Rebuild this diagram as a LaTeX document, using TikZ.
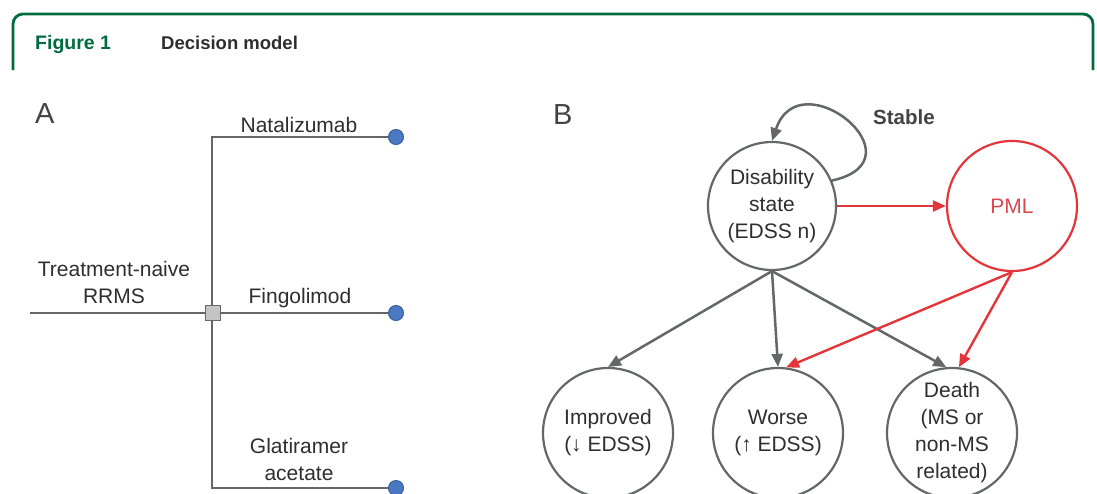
\documentclass[tikz,border=0pt]{standalone}
\usepackage{fontspec}
\setmainfont{Liberation Sans}
\usetikzlibrary{arrows.meta}
\definecolor{frameg}{HTML}{006B3F}
\definecolor{lgray}{HTML}{646668}
\definecolor{tgray}{HTML}{2E2E2E}
\definecolor{mred}{HTML}{E2363B}
\definecolor{pmltext}{HTML}{D9484C}
\definecolor{dotblue}{HTML}{4A79C4}
\definecolor{dotedge}{HTML}{3B5E9C}
\definecolor{sqfill}{HTML}{C4C4C4}
\begin{document}
\begin{tikzpicture}[x=1pt,y=-1pt,
  lbl/.style={anchor=base, text=tgray, font=\fontsize{21}{27}\selectfont, inner sep=0},
  panel/.style={anchor=base west, text=tgray!90, font=\fontsize{29}{32}\selectfont, inner sep=0},
  tline/.style={draw=lgray, line width=2.5pt},
  leaf/.style={circle, fill=dotblue, draw=dotedge, line width=1pt, minimum size=15pt, inner sep=0},
  choice/.style={rectangle, fill=sqfill, draw=lgray, line width=1.5pt, minimum size=15pt, inner sep=0},
  state/.style={circle, draw=lgray, line width=2.2pt, minimum size=130pt, inner sep=0, align=center,
                text=tgray, font=\fontsize{21}{27}\selectfont},
  pmlstate/.style={state, draw=mred, text=pmltext},
  garrow/.style={draw=lgray, line width=2.5pt, -{Triangle[length=13pt,width=11pt]}},
  rarrow/.style={draw=mred, line width=2.4pt, -{Triangle[length=13pt,width=11pt]}}
]
\useasboundingbox (0,0) rectangle (1097,493);
% frame
\draw[frameg, line width=2.8pt, rounded corners=10pt] (13,70) -- (13,14) -- (1093,14) -- (1093,70);
\node[anchor=base west, inner sep=0, text=frameg, font=\bfseries\fontsize{19.5}{22}\selectfont] (fig) at (35,49) {Figure 1};
\node[anchor=base west, inner sep=0, text=tgray, font=\bfseries\fontsize{18.5}{22}\selectfont] (ttl) at (161,49) {Decision model};

% Panel A
\node[panel] (pa) at (35,123) {A};
\coordinate (root) at (30,313);
\node[choice] (sq) at (213,313) {};
\node[leaf] (l1) at (396,137) {};
\node[leaf] (l2) at (396,313) {};
\node[leaf] (l3) at (396,488) {};
\coordinate (v1) at (212,137);
\coordinate (v3) at (212,488);
\draw[tline] (root) -- (sq.west);
\draw[tline] (sq.east) -- (l2.west);
\draw[tline] (sq.north -| v1) -- (v1) -- (l1.west);
\draw[tline] (sq.south -| v3) -- (v3) -- (l3.west);
\node[lbl] (tn1) at (114,276) {Treatment-naive};
\node[lbl] (tn2) at (114,303) {RRMS};
\node[lbl] (nat) at (299,132) {Natalizumab};
\node[lbl] (fin) at (300,303) {Fingolimod};
\node[lbl] (gl1) at (299,453) {Glatiramer};
\node[lbl] (gl2) at (299,480) {acetate};

% Panel B
\node[panel] (pb) at (553,124) {B};
\node[state, minimum size=128pt] (dis) at (772,206) {Disability\\state\\(EDSS n)};
\node[pmlstate] (pml) at (1012,206) {PML};
\node[state] (imp) at (608,433) {Improved\\(↓ EDSS)};
\node[state] (wor) at (778,433) {Worse\\(↑ EDSS)};
\node[state] (dth) at (952,433) {Death\\(MS or\\non-MS\\related)};
\node[anchor=base west, inner sep=0, text=tgray!90, font=\bfseries\fontsize{20.5}{24}\selectfont] (stb) at (873,124) {Stable};

\draw[garrow] (dis.23) .. controls (925,160) and (800,58) .. (dis.north);
\draw[rarrow] (dis.east) -- (pml.west);
\draw[garrow] (dis.south) -- (imp.north);
\draw[garrow] (dis.south) -- (wor.north);
\draw[garrow] (dis.south) -- (dth.95);
\draw[rarrow] (pml.south) -- (wor.83);
\draw[rarrow] (pml.south) -- (dth.84);
\end{tikzpicture}
\end{document}
